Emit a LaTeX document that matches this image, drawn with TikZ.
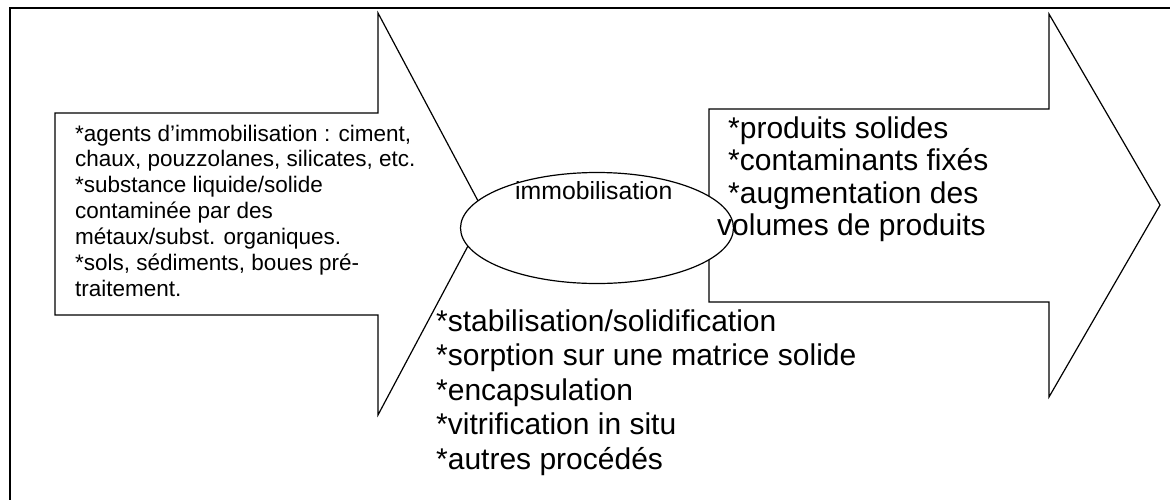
\documentclass[tikz,border=0pt]{standalone}
\usepackage{fontspec}
\setmainfont{Liberation Sans}
\usetikzlibrary{shapes.geometric}
\begin{document}
\begin{tikzpicture}[x=1pt,y=-1pt,
  outline/.style={draw=black, line width=1.2pt, line join=miter, fill=white},
  frame/.style={draw=black, line width=1.6pt},
  smalltxt/.style={inner sep=0pt, anchor=base west, font=\fontsize{22.5}{25.9}\selectfont},
  midtxt/.style={inner sep=0pt, anchor=base west, font=\fontsize{24.8}{28.5}\selectfont},
  bigtxt/.style={inner sep=0pt, anchor=base west, font=\fontsize{30}{34.6}\selectfont},
  righttxt/.style={inner sep=0pt, anchor=base west, font=\fontsize{30}{32.5}\selectfont}]
\useasboundingbox (0,0) rectangle (1170,499);
% page frame, running off the right and bottom edges
\begin{scope}
  \clip (0,0) rectangle (1170,499);
  \draw[frame] (10,8) rectangle (1185,515);
\end{scope}
% input block arrow
\draw[outline] (55,113) -- (378,113) -- (378,13) -- (485,214) -- (378,415)
  -- (378,315) -- (55,315) -- cycle;
% output block arrow
\draw[outline] (709,109) -- (1049,109) -- (1049,14) -- (1160,205) -- (1049,397)
  -- (1049,302) -- (709,302) -- cycle;
% process ellipse
\node[ellipse, outline, minimum width=273pt, minimum height=111pt, inner sep=0pt] (ell) at (597,228) {};
\node[midtxt] (immo) at (515,199) {immobilisation};
% inputs
\node[smalltxt] (inputs) at (75,141) {\begin{tabular}[t]{@{}l@{}}
{*}agents d’immobilisation : ciment,\\
chaux, pouzzolanes, silicates, etc.\\
{*}substance liquide/solide\\
contaminée par des\\
métaux/subst. organiques.\\
{*}sols, sédiments, boues pré-\\
traitement.
\end{tabular}};
% outputs
\node[righttxt] (outputs) at (728,138) {\begin{tabular}[t]{@{}l@{}}
{*}produits solides\\
{*}contaminants fixés\\
{*}augmentation des\\
\hspace*{-11pt}volumes de produits
\end{tabular}};
% process variants
\node[bigtxt] (methods) at (436,331) {\begin{tabular}[t]{@{}l@{}}
{*}stabilisation/solidification\\
{*}sorption sur une matrice solide\\
{*}encapsulation\\
{*}vitrification in situ\\
{*}autres procédés
\end{tabular}};
\end{tikzpicture}
\end{document}
